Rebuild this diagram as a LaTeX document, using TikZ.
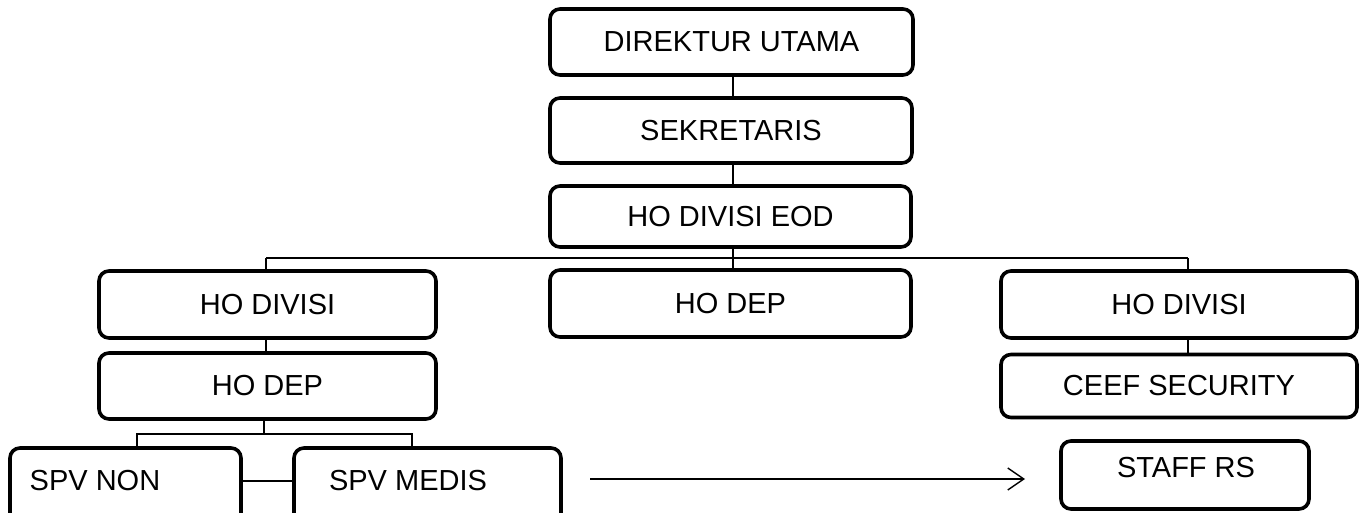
\documentclass[tikz,border=0pt]{standalone}
\usepackage{fontspec}
\setmainfont{Liberation Sans}
\usetikzlibrary{arrows.meta}
\begin{document}
\begin{tikzpicture}[x=1pt,y=-1pt,
  box/.style={draw=black, line width=3.6pt, rounded corners=10pt, inner sep=0pt, anchor=center, font=\fontsize{29}{34}\selectfont},
  lbl/.style={inner sep=0pt, anchor=center, font=\fontsize{29}{34}\selectfont},
  conn/.style={draw=black, line width=1.3pt},
  arr/.style={draw=black, line width=1.4pt, -{Straight Barb[length=16pt,width=22pt,line width=1.4pt]}}]
\useasboundingbox (0,0) rectangle (1360,513);
\begin{scope}
\clip (0,0) rectangle (1360,513);
% top chain
\node[box, minimum width=363, minimum height=66] (dir) at (731.5,42) {DIREKTUR UTAMA};
\node[box, minimum width=362, minimum height=65] (sek) at (731,130.5) {SEKRETARIS};
\node[box, minimum width=361, minimum height=61] (eod) at (730.5,216.5) {HO DIVISI EOD};
% second level
\node[box, minimum width=361, minimum height=67] (hodepc) at (730.5,303.5) {HO DEP};
\node[box, minimum width=337, minimum height=67] (hodivl) at (267.5,304.5) {HO DIVISI};
\node[box, minimum width=356, minimum height=67] (hodivr) at (1179,304.5) {HO DIVISI};
% third level
\node[box, minimum width=337, minimum height=66] (hodepl) at (267.5,386) {HO DEP};
\node[box, minimum width=356, minimum height=63] (ceef) at (1179,386) {CEEF SECURITY};
% bottom level
\node[box, minimum width=231, minimum height=82] (spvnon) at (125.5,489) {};
\node[lbl] (spvnontext) at (95,481) {SPV NON};
\node[box, minimum width=267, minimum height=82] (spvmedis) at (427.5,489) {};
\node[lbl] (spvmedistext) at (408,481) {SPV MEDIS};
\node[box, minimum width=248, minimum height=68] (staff) at (1185,475) {};
\node[lbl] (stafftext) at (1186,468) {STAFF RS};

% connectors
\coordinate (cx) at (733,0);
\draw[conn] (dir.south -| cx) -- (sek.north -| cx);
\draw[conn] (sek.south -| cx) -- (eod.north -| cx);
\draw[conn] (eod.south -| cx) -- (hodepc.north -| cx);
\coordinate (busl) at (266,258);
\coordinate (busr) at (1188,258);
\draw[conn] (busl) -- (busr);
\draw[conn] (busl) -- (busl |- hodivl.north);
\draw[conn] (busr) -- (busr |- hodivr.north);
\draw[conn] (hodivl.south -| busl) -- (hodepl.north -| busl);
\draw[conn] (busr |- hodivr.south) -- (busr |- ceef.north);
% bracket under HO DEP
\coordinate (brl) at (137,434);
\coordinate (brr) at (412,434);
\coordinate (brm) at (264,434);
\draw[conn] (brm |- hodepl.south) -- (brm);
\draw[conn, line width=1.6pt] (brl |- spvnon.north) -- (brl) -- (brr) -- (brr |- spvmedis.north);
\draw[conn] (spvnon.east |- spvnontext) -- (spvmedis.west |- spvnontext);
% arrow
\coordinate (a1) at (590,479);
\coordinate (a2) at (1025,479);
\draw[arr] (a1) -- (a2);
\end{scope}
\end{tikzpicture}
\end{document}
